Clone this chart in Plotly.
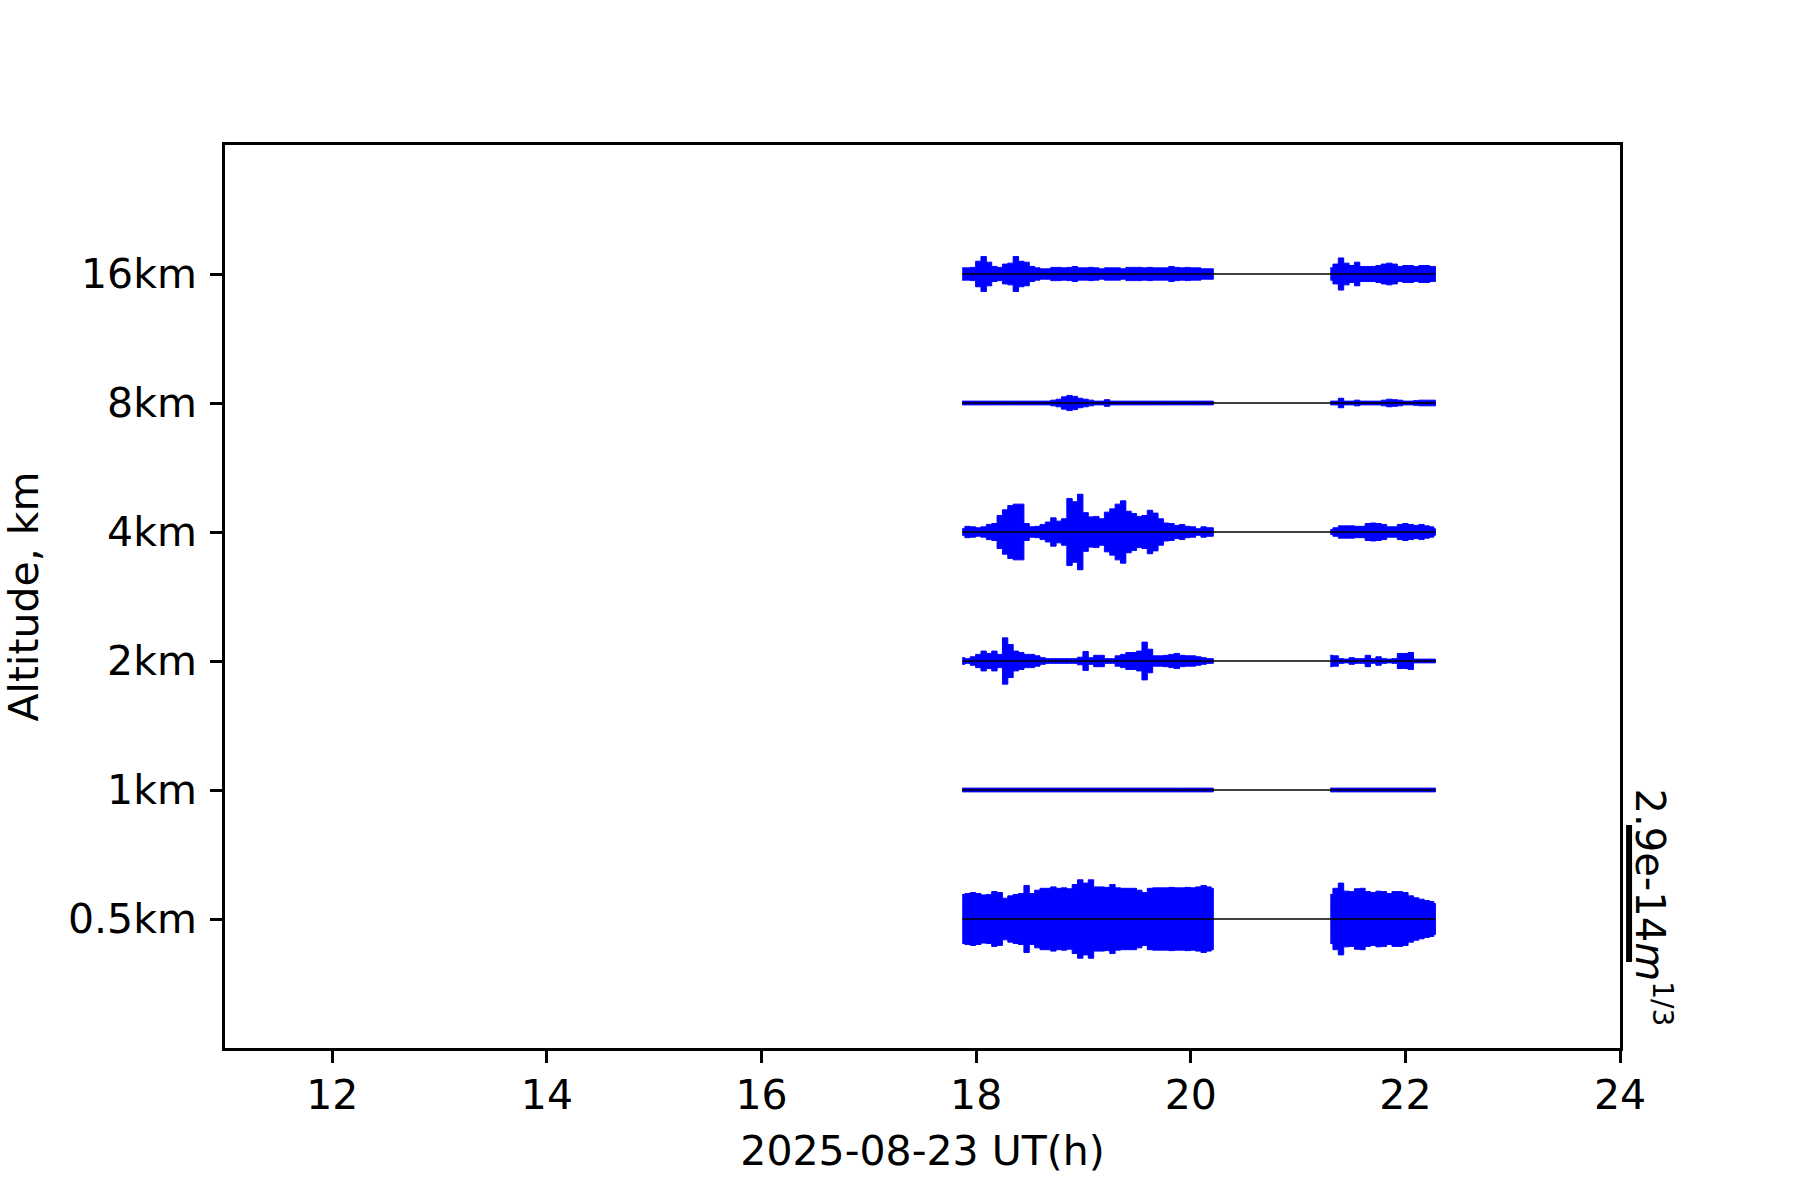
"""
Stacked turbulence-strength traces per altitude layer, one baseline per
layer, with an amplitude scale bar on the right edge.
"""
import plotly.graph_objects as go

# ---- data ------------------------------------------------------------------
ALT_LABELS = ["0.5km", "1km", "2km", "4km", "8km", "16km"]
X_TICKS = [12, 14, 16, 18, 20, 22, 24]

# sample times (UT hours) of the two observing blocks
T1 = [17.87, 17.92, 17.97, 18.02, 18.07, 18.12, 18.17, 18.22, 18.27, 18.32,
      18.37, 18.42, 18.47, 18.52, 18.57, 18.62, 18.67, 18.72, 18.77, 18.82,
      18.87, 18.92, 18.97, 19.02, 19.07, 19.12, 19.17, 19.22, 19.27, 19.32,
      19.37, 19.42, 19.47, 19.52, 19.57, 19.62, 19.67, 19.72, 19.77, 19.82,
      19.87, 19.92, 19.97, 20.02, 20.07, 20.12, 20.17, 20.21]
T2 = [21.30, 21.35, 21.40, 21.45, 21.50, 21.55, 21.60, 21.65, 21.70, 21.75,
      21.80, 21.85, 21.90, 21.95, 22.00, 22.05, 22.10, 22.15, 22.20, 22.25,
      22.28]

# envelope amplitude, units of 1e-14 m^(1/3)
AMP_05KM_1 = [0.52, 0.54, 0.56, 0.54, 0.51, 0.52, 0.58, 0.56, 0.44, 0.49,
              0.52, 0.54, 0.71, 0.54, 0.61, 0.65, 0.65, 0.68, 0.65, 0.66,
              0.64, 0.73, 0.83, 0.76, 0.83, 0.68, 0.68, 0.67, 0.73, 0.66,
              0.65, 0.65, 0.65, 0.61, 0.56, 0.65, 0.66, 0.66, 0.66, 0.67,
              0.66, 0.66, 0.67, 0.66, 0.68, 0.71, 0.68, 0.65]
AMP_05KM_2 = [0.52, 0.65, 0.76, 0.59, 0.58, 0.64, 0.65, 0.58, 0.56, 0.59,
              0.58, 0.54, 0.58, 0.58, 0.56, 0.49, 0.45, 0.42, 0.39, 0.37,
              0.33]

AMP_1KM_1 = [0.04, 0.04, 0.04, 0.04, 0.04, 0.04, 0.04, 0.04, 0.04, 0.04,
             0.04, 0.04, 0.04, 0.04, 0.04, 0.04, 0.04, 0.04, 0.04, 0.04,
             0.04, 0.04, 0.04, 0.04, 0.04, 0.04, 0.04, 0.04, 0.04, 0.04,
             0.04, 0.04, 0.04, 0.04, 0.04, 0.04, 0.04, 0.04, 0.04, 0.04,
             0.04, 0.04, 0.04, 0.04, 0.04, 0.04, 0.04, 0.04]
AMP_1KM_2 = [0.04, 0.04, 0.04, 0.04, 0.04, 0.04, 0.04, 0.04, 0.04, 0.04,
             0.04, 0.04, 0.04, 0.04, 0.04, 0.04, 0.04, 0.04, 0.04, 0.04,
             0.04]

AMP_2KM_1 = [0.07, 0.05, 0.09, 0.14, 0.21, 0.16, 0.21, 0.14, 0.49, 0.35,
             0.21, 0.18, 0.14, 0.14, 0.11, 0.07, 0.05, 0.05, 0.05, 0.05,
             0.05, 0.05, 0.08, 0.20, 0.07, 0.12, 0.12, 0.05, 0.05, 0.11,
             0.14, 0.18, 0.18, 0.21, 0.40, 0.25, 0.11, 0.11, 0.12, 0.14,
             0.16, 0.12, 0.11, 0.11, 0.09, 0.07, 0.05, 0.05]
AMP_2KM_2 = [0.12, 0.11, 0.05, 0.04, 0.07, 0.05, 0.05, 0.12, 0.05, 0.09,
             0.05, 0.04, 0.05, 0.16, 0.16, 0.18, 0.04, 0.04, 0.04, 0.04,
             0.04]

AMP_4KM_1 = [0.07, 0.12, 0.11, 0.09, 0.11, 0.16, 0.18, 0.35, 0.47, 0.56,
             0.59, 0.59, 0.18, 0.11, 0.12, 0.16, 0.21, 0.30, 0.23, 0.28,
             0.71, 0.64, 0.80, 0.41, 0.32, 0.33, 0.28, 0.42, 0.49, 0.59,
             0.66, 0.44, 0.39, 0.33, 0.35, 0.46, 0.40, 0.28, 0.19, 0.18,
             0.14, 0.16, 0.12, 0.11, 0.07, 0.11, 0.09, 0.09]
AMP_4KM_2 = [0.05, 0.09, 0.13, 0.13, 0.13, 0.12, 0.12, 0.18, 0.19, 0.18,
             0.16, 0.11, 0.11, 0.16, 0.18, 0.16, 0.14, 0.16, 0.13, 0.11,
             0.07]

AMP_8KM_1 = [0.04, 0.04, 0.04, 0.04, 0.04, 0.04, 0.04, 0.04, 0.04, 0.04,
             0.04, 0.04, 0.04, 0.04, 0.04, 0.04, 0.04, 0.06, 0.08, 0.13,
             0.16, 0.14, 0.10, 0.08, 0.06, 0.04, 0.04, 0.07, 0.04, 0.04,
             0.04, 0.04, 0.04, 0.04, 0.04, 0.04, 0.04, 0.04, 0.04, 0.04,
             0.04, 0.04, 0.04, 0.04, 0.04, 0.04, 0.04, 0.04]
AMP_8KM_2 = [0.04, 0.04, 0.10, 0.04, 0.04, 0.06, 0.04, 0.04, 0.04, 0.04,
             0.06, 0.08, 0.07, 0.06, 0.04, 0.04, 0.05, 0.06, 0.06, 0.06,
             0.06]

AMP_16KM_1 = [0.13, 0.13, 0.14, 0.27, 0.37, 0.25, 0.16, 0.14, 0.21, 0.23,
              0.37, 0.27, 0.25, 0.16, 0.13, 0.11, 0.11, 0.14, 0.14, 0.13,
              0.14, 0.16, 0.13, 0.13, 0.14, 0.13, 0.11, 0.13, 0.13, 0.13,
              0.11, 0.14, 0.14, 0.14, 0.13, 0.14, 0.13, 0.13, 0.13, 0.16,
              0.14, 0.13, 0.14, 0.13, 0.13, 0.11, 0.11, 0.11]
AMP_16KM_2 = [0.13, 0.21, 0.34, 0.23, 0.18, 0.25, 0.16, 0.16, 0.16, 0.18,
              0.21, 0.23, 0.21, 0.16, 0.18, 0.18, 0.16, 0.18, 0.18, 0.16,
              0.16]

SCALE_VALUE = 2.9  # 1e-14 m^(1/3), length of the scale bar

# ---- drawing ---------------------------------------------------------------
GAIN = 0.366  # track spacings per 1e-14 m^(1/3)
FONT = "DejaVu Sans"
BLUE = "#0000ff"

amps = [
    (AMP_05KM_1, AMP_05KM_2),
    (AMP_1KM_1, AMP_1KM_2),
    (AMP_2KM_1, AMP_2KM_2),
    (AMP_4KM_1, AMP_4KM_2),
    (AMP_8KM_1, AMP_8KM_2),
    (AMP_16KM_1, AMP_16KM_2),
]

fig = go.Figure()

for level, (a1, a2) in enumerate(amps):
    for t, a in ((T1, a1), (T2, a2)):
        upper = [level + v * GAIN for v in a]
        lower = [level - v * GAIN for v in a]
        fig.add_trace(go.Scatter(
            x=list(t) + list(t)[::-1],
            y=upper + lower[::-1],
            mode="lines",
            line=dict(color=BLUE, width=1, shape="hvh"),
            fill="toself",
            fillcolor=BLUE,
            hoverinfo="skip",
            showlegend=False,
        ))

# baselines on top of the traces
for level in range(len(ALT_LABELS)):
    fig.add_trace(go.Scatter(
        x=[T1[0], T2[-1]], y=[level, level],
        mode="lines",
        line=dict(color="black", width=1.7),
        hoverinfo="skip",
        showlegend=False,
    ))

# amplitude scale bar on the right
bar_bottom = -0.333
fig.add_shape(type="line", xref="paper", yref="y",
              x0=1.0065, x1=1.0065, y0=bar_bottom, y1=bar_bottom + SCALE_VALUE * GAIN,
              line=dict(color="black", width=6))
fig.add_annotation(xref="paper", yref="y", x=1.0235, y=0.09,
                   text=f"{SCALE_VALUE}e-14<i>m</i><sup>1/3</sup>",
                   textangle=90, showarrow=False,
                   xanchor="center", yanchor="middle",
                   font=dict(family=FONT, size=40, color="black"))

axis_common = dict(
    showgrid=False, zeroline=False, automargin=False,
    showline=True, linecolor="black", linewidth=2.8, mirror=True,
    ticks="outside", ticklen=12, tickwidth=2.8, tickcolor="black",
    tickfont=dict(family=FONT, size=41, color="black"),
)
fig.update_xaxes(range=[11, 24], tickvals=X_TICKS,
                 title=dict(text="2025-08-23 UT(h)", standoff=19,
                            font=dict(family=FONT, size=41, color="black")),
                 ticklabelstandoff=-3, **axis_common)
fig.update_yaxes(range=[-1, 6], tickvals=list(range(len(ALT_LABELS))), ticktext=ALT_LABELS,
                 title=dict(text="Altitude, km", standoff=39,
                            font=dict(family=FONT, size=41, color="black")),
                 ticklabelstandoff=5, **axis_common)

fig.update_layout(
    width=1800, height=1200,
    margin=dict(l=225, r=180, t=145, b=152, autoexpand=False),
    plot_bgcolor="white", paper_bgcolor="white",
    font=dict(family=FONT, size=41, color="black"),
    showlegend=False,
)

# drop the browser's default body margin so the figure sits at (0, 0)
fig.write_html("out.html", config={"displayModeBar": False},
               post_script="document.body.style.margin = '0';")
